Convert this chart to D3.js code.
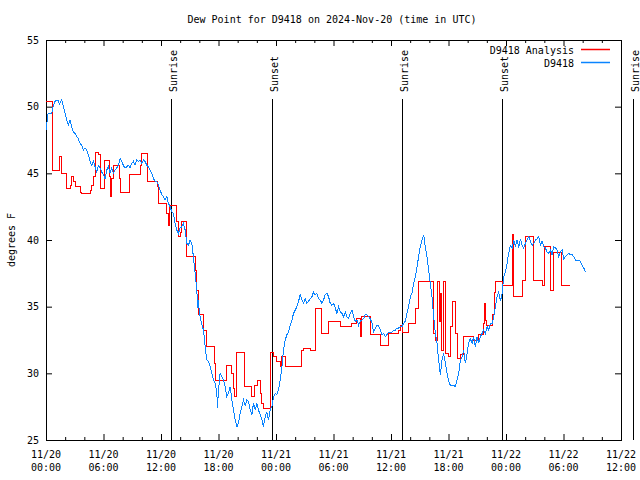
<!DOCTYPE html>
<html>
<head>
<meta charset="utf-8">
<script src="https://cdn.jsdelivr.net/npm/d3@7"></script>
<style>
body { margin: 0; background: #fff; }
text { font-family: "DejaVu Sans Mono", monospace; font-size: 10px; fill: #000; }
</style>
</head>
<body>
<script>
// hours after 2024-11-20 00:00 UTC, dew point in F
var obs = [
[0.07,48.25],[0.14,49.4],[0.24,49.5],[0.6,49.5],[0.76,50.1],[0.94,50.4],[1.12,50.5],[1.25,50.5],[1.41,50.2],[1.64,50.5],
[1.81,50.0],[1.98,49.5],[2.16,49.0],[2.33,48.6],[2.51,49.0],[2.68,48.5],[2.85,48.1],[3.03,48.0],[3.21,47.75],[3.37,47.6],
[3.55,47.25],[3.73,47.1],[3.9,46.75],[4.07,46.9],[4.25,46.75],[4.42,46.4],[4.6,45.9],[4.77,45.6],[4.94,45.9],[5.12,45.5],
[5.3,45.1],[5.46,45.6],[5.64,45.4],[5.82,45.1],[5.98,44.9],[6.16,44.6],[6.34,45.25],[6.51,45.5],[6.68,45.0],[6.86,45.4],
[7.03,45.0],[7.21,45.25],[7.38,45.4],[7.55,45.6],[7.73,46.1],[7.91,45.9],[8.07,45.6],[8.25,45.4],[8.43,45.5],[8.6,45.6],
[8.77,45.4],[8.95,45.75],[9.12,45.9],[9.29,45.6],[9.47,46.0],[9.64,45.9],[9.82,46.0],[9.99,45.75],[10.16,46.0],[10.34,45.9],
[10.52,45.6],[10.68,45.5],[10.86,45.25],[11.04,45.0],[11.21,44.6],[11.38,44.4],[11.56,44.4],[11.73,44.1],[11.91,43.75],[12.08,43.4],
[12.25,43.25],[12.43,43.0],[12.61,43.25],[12.77,42.75],[12.95,42.5],[13.13,42.1],[13.3,42.0],[13.47,41.25],[13.65,40.75],[13.82,40.5],
[13.99,40.9],[14.17,41.0],[14.34,41.25],[14.52,40.75],[14.69,39.75],[14.86,39.6],[15.04,40.0],[15.22,39.75],[15.38,38.75],[15.56,37.5],
[15.74,36.25],[15.82,34.9],[15.91,35.5],[16.01,34.5],[16.19,33.85],[16.43,33.25],[16.61,32.0],[16.78,31.0],[16.95,30.9],[17.13,30.5],
[17.31,30.0],[17.47,29.5],[17.65,29.25],[17.83,28.5],[17.89,27.4],[18.0,28.75],[18.17,30.0],[18.35,29.75],[18.52,29.5],[18.69,29.0],
[18.87,28.25],[19.04,28.5],[19.22,29.0],[19.39,28.0],[19.56,27.25],[19.74,26.5],[19.92,26.0],[20.08,26.25],[20.26,27.0],[20.44,27.5],
[20.61,28.0],[20.78,27.6],[20.96,28.0],[21.13,27.9],[21.31,27.25],[21.48,26.9],[21.65,27.75],[21.83,27.25],[22.0,27.75],[22.17,27.25],
[22.35,26.9],[22.53,26.5],[22.69,26.0],[22.87,26.75],[23.05,27.1],[23.22,26.5],[23.39,27.25],[23.57,27.5],[23.74,28.25],[23.92,28.5],
[24.09,28.4],[24.26,28.75],[24.44,29.5],[24.62,30.5],[24.78,31.75],[24.96,32.5],[25.14,32.9],[25.31,33.1],[25.48,33.6],[25.66,34.0],
[25.83,34.5],[26.01,34.75],[26.18,35.0],[26.35,35.4],[26.53,35.9],[26.7,35.5],[26.87,35.25],[27.05,35.6],[27.23,35.25],[27.39,35.4],
[27.57,35.6],[27.75,35.75],[27.92,36.1],[28.09,35.9],[28.27,36.0],[28.44,35.6],[28.62,35.5],[28.79,35.25],[28.96,35.5],[29.14,35.9],
[29.32,36.0],[29.48,35.75],[29.66,35.25],[29.84,35.1],[30.01,35.25],[30.18,34.9],[30.36,34.5],[30.53,35.0],[30.7,34.6],[30.88,34.5],
[31.05,34.25],[31.23,34.6],[31.4,34.25],[31.57,34.1],[31.75,34.5],[31.93,34.75],[32.09,34.25],[32.27,33.9],[32.45,34.0],[32.62,33.6],
[32.79,33.9],[32.97,34.0],[33.14,34.1],[33.32,34.4],[33.49,34.4],[33.66,34.25],[33.84,34.1],[34.02,33.75],[34.18,33.1],[34.36,33.4],
[34.54,33.6],[34.7,33.6],[34.88,33.25],[35.06,32.9],[35.23,33.0],[35.41,32.75],[35.58,32.9],[35.75,33.1],[35.93,33.1],[36.1,33.1],
[36.27,33.25],[36.45,33.25],[36.63,33.4],[36.79,33.4],[36.97,33.5],[37.15,33.5],[37.32,33.75],[37.49,33.9],[37.67,34.5],[37.84,35.0],
[38.02,35.75],[38.19,36.0],[38.36,36.75],[38.54,37.25],[38.72,38.0],[38.88,38.75],[39.06,39.5],[39.24,40.0],[39.41,40.4],[39.58,39.5],
[39.76,38.75],[39.93,37.75],[40.1,36.75],[40.28,35.75],[40.45,34.25],[40.63,33.0],[40.8,32.25],[40.97,31.0],[41.15,29.9],[41.32,31.0],
[41.49,31.5],[41.67,30.75],[41.85,30.0],[42.02,29.4],[42.19,29.1],[42.37,29.1],[42.54,29.1],[42.72,29.0],[42.89,29.5],[43.06,30.0],
[43.24,31.0],[43.42,31.25],[43.58,31.75],[43.76,30.75],[43.94,31.5],[44.1,32.25],[44.28,32.6],[44.46,32.25],[44.63,32.75],[44.8,32.0],
[44.98,32.75],[45.15,32.25],[45.33,32.75],[45.5,33.0],[45.67,33.25],[45.85,33.0],[46.03,33.5],[46.19,33.25],[46.37,33.75],[46.55,33.75],
[46.72,34.25],[46.89,35.0],[47.07,35.75],[47.24,36.1],[47.42,35.4],[47.59,36.0],[47.76,37.25],[47.94,37.6],[48.11,38.25],[48.28,39.0],
[48.46,39.6],[48.64,39.4],[48.81,40.0],[48.98,39.5],[49.16,40.0],[49.33,39.4],[49.5,40.1],[49.68,39.6],[49.85,39.4],[50.03,39.75],
[50.2,40.0],[50.37,40.25],[50.55,39.9],[50.72,39.6],[50.89,39.75],[51.07,40.0],[51.25,40.1],[51.41,40.25],[51.59,39.6],[51.77,39.9],
[51.94,39.5],[52.11,39.4],[52.29,39.1],[52.46,39.0],[52.64,39.25],[52.81,38.9],[52.98,39.5],[53.16,39.4],[53.34,39.25],[53.5,38.75],
[53.68,39.1],[53.86,39.25],[54.03,38.6],[54.2,38.75],[54.38,38.9],[54.55,39.0],[54.73,38.9],[54.9,38.9],[55.07,38.75],[55.25,38.5],
[55.43,38.5],[55.59,38.5],[55.77,38.4],[55.95,38.1],[56.12,37.9],[56.29,37.6]
];

// analysis values, each held until the next one
var analysis = [
[0,50.4],[0.68,45.25],[1.46,46.25],[1.64,45.0],[2.16,43.9],[2.51,44.1],[2.68,44.75],[2.85,44.4],[3.03,44.0],[3.55,43.6],
[3.73,43.5],[4.6,43.75],[4.77,44.1],[4.94,44.75],[5.12,46.6],[5.46,46.4],[5.64,43.9],[6.09,46.0],[6.61,44.75],[6.73,43.25],
[6.86,44.6],[7.03,45.6],[7.66,44.6],[7.73,43.6],[8.7,44.9],[9.82,45.6],[9.99,46.5],[10.58,44.4],[11.62,44.0],[11.73,42.75],
[12.61,42.0],[12.74,41.1],[12.88,42.6],[13.65,41.4],[13.82,40.25],[13.99,40.6],[14.17,41.4],[14.69,38.75],[15.56,37.75],[15.74,36.25],
[15.91,34.4],[16.43,33.25],[16.78,32.0],[17.58,30.75],[17.65,29.5],[18.87,30.6],[19.39,30.0],[19.56,28.9],[19.66,28.25],[19.92,31.6],
[20.73,29.0],[21.48,28.25],[21.73,29.1],[22.09,29.5],[22.35,28.5],[22.53,27.75],[22.69,27.4],[23.39,31.6],[23.74,31.25],[24.09,30.9],
[24.44,30.5],[24.62,31.25],[24.96,30.5],[26.7,31.75],[26.87,31.9],[27.57,31.75],[28.09,34.9],[28.79,33.0],[29.48,33.9],[30.7,33.5],
[31.93,33.75],[32.45,34.1],[32.79,32.75],[32.97,34.25],[33.84,32.9],[34.88,32.1],[35.75,33.0],[36.79,33.25],[36.97,33.6],[37.15,33.1],
[37.84,33.75],[38.54,34.9],[38.85,36.9],[40.45,33.0],[40.63,32.5],[40.89,36.9],[41.04,33.9],[41.18,36.0],[41.31,31.75],[41.46,36.9],
[41.72,31.5],[42.02,31.25],[42.19,33.5],[42.37,35.4],[42.72,33.0],[42.89,31.1],[43.24,31.4],[43.58,32.75],[44.63,32.5],[45.12,32.9],
[45.67,33.75],[45.78,35.25],[45.85,34.0],[45.95,33.6],[46.55,34.4],[46.82,36.1],[46.89,36.9],[47.59,36.6],[48.7,40.4],[48.81,35.75],
[49.68,37.0],[50.03,40.25],[50.83,37.0],[51.77,36.6],[52.01,39.5],[52.69,36.25],[52.92,39.1],[53.79,36.6],[54.73,36.6]
];

var eventHours = [13.09, 23.55, 37.18, 47.55, 61.2];
var eventNames = ["Sunrise", "Sunset", "Sunrise", "Sunset", "Sunrise"];
var yTicks = [25, 30, 35, 40, 45, 50, 55];
var seriesNames = ["D9418 Analysis", "D9418"];
var seriesColors = ["#ff0000", "#0a84ff"];

var w = 640;
var h = 480;
var plotL = 46, plotR = 621, plotT = 40, plotB = 440;
var t0 = Date.UTC(2024, 10, 20, 0, 0);

function toDate(hr) {
  return new Date(t0 + hr * 3600000);
}

var x = d3.scaleUtc().domain([toDate(0), toDate(60)]).range([plotL, plotR]);
var y = d3.scaleLinear().domain([25, 55]).range([plotB, plotT]);

var major = d3.range(0, 61, 6).map(toDate);
var minor = d3.range(0, 61, 2).filter(function(d) { return d % 6 != 0; }).map(toDate);

var svg = d3.select("body")
  .append("svg")
  .attr("width", w)
  .attr("height", h)
  .style("background-color", "#fff");

function tickStyle(g) {
  g.select(".domain").remove();
  g.selectAll("line").attr("stroke", "#000");
}

// x ticks, bottom and top, pointing inward
svg.append("g").attr("transform", "translate(0," + plotB + ")")
  .call(d3.axisBottom(x).tickValues(major).tickSize(-6).tickFormat(""))
  .call(tickStyle);
svg.append("g").attr("transform", "translate(0," + plotB + ")")
  .call(d3.axisBottom(x).tickValues(minor).tickSize(-3).tickFormat(""))
  .call(tickStyle);
svg.append("g").attr("transform", "translate(0," + plotT + ")")
  .call(d3.axisTop(x).tickValues(major).tickSize(-6).tickFormat(""))
  .call(tickStyle);
svg.append("g").attr("transform", "translate(0," + plotT + ")")
  .call(d3.axisTop(x).tickValues(minor).tickSize(-3).tickFormat(""))
  .call(tickStyle);

// y ticks
svg.append("g").attr("transform", "translate(" + plotL + ",0)")
  .call(d3.axisLeft(y).tickValues(yTicks).tickSize(-6).tickPadding(7))
  .call(tickStyle)
  .selectAll("text")
  .style("font-family", "DejaVu Sans Mono, monospace")
  .style("font-size", "10px");
svg.append("g").attr("transform", "translate(" + plotR + ",0)")
  .call(d3.axisRight(y).tickValues(yTicks).tickSize(-6).tickFormat(""))
  .call(tickStyle);

// x tick labels on two lines
var dayFmt = d3.utcFormat("%m/%d");
var hourFmt = d3.utcFormat("%H:%M");
var xl = svg.selectAll(".xl")
  .data(major)
  .enter()
  .append("text")
  .attr("class", "xl")
  .attr("text-anchor", "middle");
xl.append("tspan")
  .attr("x", function(d) { return x(d); })
  .attr("y", 458)
  .text(function(d) { return dayFmt(d); });
xl.append("tspan")
  .attr("x", function(d) { return x(d); })
  .attr("y", 471)
  .text(function(d) { return hourFmt(d); });

// border
svg.append("rect")
  .attr("x", plotL + 0.5)
  .attr("y", plotT + 0.5)
  .attr("width", plotR - plotL)
  .attr("height", plotB - plotT)
  .attr("fill", "none")
  .attr("stroke", "#000");

// sunrise / sunset markers
svg.selectAll(".ev")
  .data(eventHours)
  .enter()
  .append("line")
  .attr("class", "ev")
  .attr("x1", function(d) { return Math.round(x(toDate(d))) + 0.5; })
  .attr("x2", function(d) { return Math.round(x(toDate(d))) + 0.5; })
  .attr("y1", 99)
  .attr("y2", plotB)
  .attr("stroke", "#000");

svg.selectAll(".evl")
  .data(eventHours)
  .enter()
  .append("text")
  .attr("class", "evl")
  .attr("text-anchor", "start")
  .attr("transform", function(d) {
    return "translate(" + (Math.round(x(toDate(d))) + 5.5) + ",92) rotate(-90)";
  })
  .text(function(d, i) { return eventNames[i]; });

// series
var anaLine = d3.line()
  .curve(d3.curveStepAfter)
  .x(function(d) { return x(toDate(d[0])); })
  .y(function(d) { return y(d[1]); });
var obsLine = d3.line()
  .x(function(d) { return x(toDate(d[0])); })
  .y(function(d) { return y(d[1]); });

svg.append("path")
  .datum(analysis)
  .attr("d", anaLine)
  .attr("fill", "none")
  .attr("stroke", seriesColors[0])
  .attr("stroke-width", 1)
  .attr("shape-rendering", "crispEdges");

svg.append("path")
  .datum(obs)
  .attr("d", obsLine)
  .attr("fill", "none")
  .attr("stroke", seriesColors[1])
  .attr("stroke-width", 1)
  .attr("shape-rendering", "crispEdges");

// legend
seriesNames.forEach(function(name, i) {
  var ly = 49.5 + i * 13;
  svg.append("text")
    .attr("x", 574)
    .attr("y", ly + 4)
    .attr("text-anchor", "end")
    .text(name);
  svg.append("line")
    .attr("x1", 581)
    .attr("x2", 610)
    .attr("y1", ly)
    .attr("y2", ly)
    .attr("stroke", seriesColors[i])
    .attr("stroke-width", 1.5);
});

// title and y label
svg.append("text")
  .attr("x", 332)
  .attr("y", 23)
  .attr("text-anchor", "middle")
  .text("Dew Point for D9418 on 2024-Nov-20 (time in UTC)");

svg.append("text")
  .attr("transform", "translate(15,240) rotate(-90)")
  .attr("text-anchor", "middle")
  .text("degrees F");
</script>
</body>
</html>
